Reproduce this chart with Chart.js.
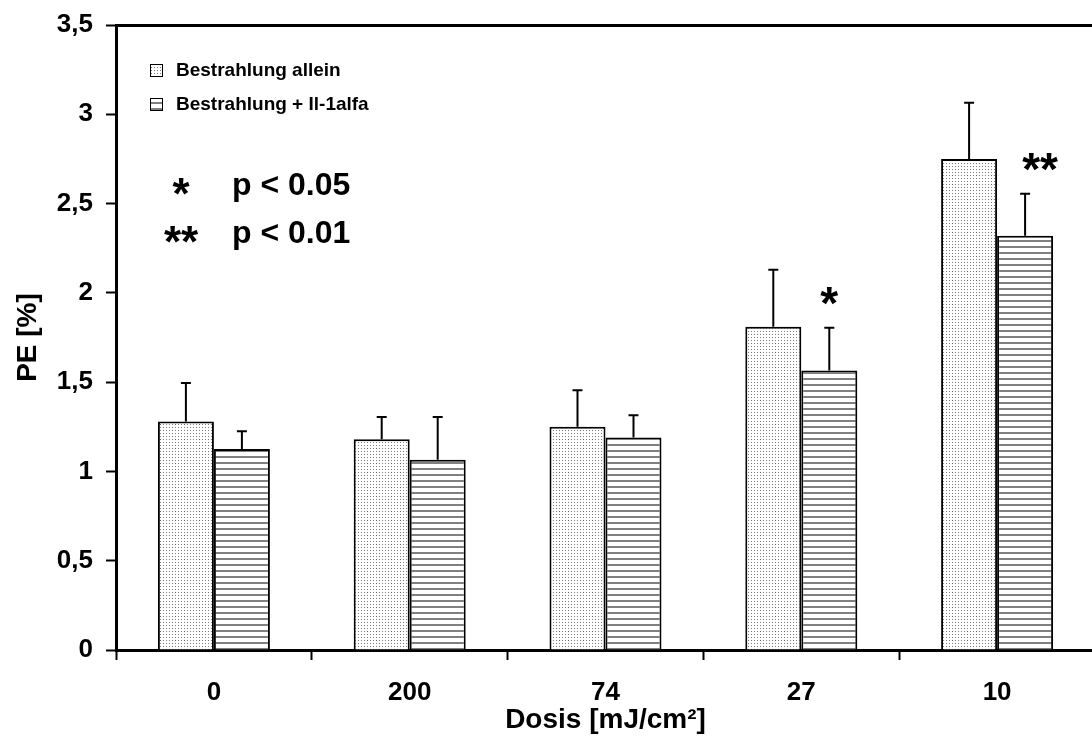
<!DOCTYPE html>
<html>
<head>
<meta charset="utf-8">
<script src="https://cdn.jsdelivr.net/npm/chart.js@4.4.0/dist/chart.umd.min.js"></script>
<style>
  html, body { margin: 0; padding: 0; background: #fff; overflow: hidden; }
</style>
</head>
<body>
<canvas id="grafico-pe" width="1100" height="745"></canvas>
<script>
// Dosis-Kategorien und PE-Werte (Mittelwert + Fehler nach oben)
const dosen = ["0", "200", "74", "27", "10"];
const peAllein = [1.28, 1.18, 1.25, 1.81, 2.75];
const fehlerAllein = [0.215, 0.125, 0.205, 0.32, 0.315];
const peIl1 = [1.125, 1.065, 1.19, 1.565, 2.32];
const fehlerIl1 = [0.10, 0.24, 0.125, 0.24, 0.235];
const signifikanz = ["", "", "", "*", "**"];
const yTicks = [0, 0.5, 1, 1.5, 2, 2.5, 3, 3.5];

const schrift = "'Liberation Sans', Arial, sans-serif";
Chart.defaults.font.family = schrift;
Chart.defaults.color = "#000";

const canvas = document.getElementById("grafico-pe");
const ctx = canvas.getContext("2d");

// Punktraster für "allein"
const musterPunkte = (() => {
  const c = document.createElement("canvas");
  c.width = 3; c.height = 3;
  const g = c.getContext("2d");
  g.fillStyle = "#fff"; g.fillRect(0, 0, 3, 3);
  g.fillStyle = "#7a7a7a"; g.fillRect(1, 1, 1, 1);
  return ctx.createPattern(c, "repeat");
})();

// waagerechte Linien für "+ Il-1alfa"
const musterLinien = (() => {
  const c = document.createElement("canvas");
  c.width = 6; c.height = 6;
  const g = c.getContext("2d");
  g.fillStyle = "#fff"; g.fillRect(0, 0, 6, 6);
  g.fillStyle = "#808080"; g.fillRect(0, 0, 6, 2);
  return ctx.createPattern(c, "repeat");
})();

const fehlerbalken = {
  id: "fehlerbalken",
  afterDatasetsDraw(chart) {
    const c = chart.ctx;
    const y = chart.scales.y;
    [fehlerAllein, fehlerIl1].forEach((err, i) => {
      const werte = chart.data.datasets[i].data;
      chart.getDatasetMeta(i).data.forEach((bar, j) => {
        const oben = y.getPixelForValue(werte[j] + err[j]);
        c.save();
        c.strokeStyle = "#000";
        c.lineWidth = 2;
        c.beginPath();
        c.moveTo(bar.x, bar.y);
        c.lineTo(bar.x, oben);
        c.moveTo(bar.x - 5, oben);
        c.lineTo(bar.x + 5, oben);
        c.stroke();
        c.restore();
      });
    });
    // Sternchen über den Il-1alfa-Balken
    c.save();
    c.fillStyle = "#000";
    c.font = "bold 46px " + schrift;
    c.textAlign = "center";
    c.textBaseline = "alphabetic";
    chart.getDatasetMeta(1).data.forEach((bar, j) => {
      if (!signifikanz[j]) return;
      const oben = y.getPixelForValue(peIl1[j] + fehlerIl1[j]);
      const dx = signifikanz[j].length > 1 ? 15 : 0;
      c.fillText(signifikanz[j], bar.x + dx, oben - 9);
    });
    c.restore();
  }
};

const legende = {
  id: "legende",
  afterDraw(chart) {
    const c = chart.ctx;
    const a = chart.chartArea;
    c.save();
    const eintraege = [
      { text: chart.data.datasets[0].label, muster: musterPunkte },
      { text: chart.data.datasets[1].label, muster: musterLinien },
    ];
    eintraege.forEach((e, i) => {
      const bx = a.left + 34, by = a.top + 39 + i * 34;
      c.fillStyle = e.muster;
      c.fillRect(bx, by, 13, 13);
      c.strokeStyle = "#000";
      c.lineWidth = 1;
      c.strokeRect(bx + 0.5, by + 0.5, 12, 12);
      c.fillStyle = "#000";
      c.font = "bold 19px " + schrift;
      c.textBaseline = "middle";
      c.textAlign = "left";
      c.fillText(e.text, bx + 26, by + 7);
    });

    const pWerte = [["*", "p < 0.05"], ["**", "p < 0.01"]];
    pWerte.forEach((p, i) => {
      const ym = a.top + 160 + i * 48;
      c.font = "bold 44px " + schrift;
      c.textAlign = "center";
      c.textBaseline = "alphabetic";
      c.fillText(p[0], a.left + 65, ym + 24);
      c.font = "bold 32px " + schrift;
      c.textAlign = "left";
      c.textBaseline = "middle";
      c.fillText(p[1], a.left + 116, ym + 1);
    });
    c.restore();
  }
};

const tickSchrift = { family: schrift, size: 26, weight: "bold" };
const titelSchrift = { family: schrift, size: 28, weight: "bold" };

new Chart(ctx, {
  type: "bar",
  data: {
    labels: dosen,
    datasets: [
      {
        label: "Bestrahlung allein",
        data: peAllein,
        backgroundColor: musterPunkte,
        borderColor: "#000",
        borderWidth: 2,
      },
      {
        label: "Bestrahlung + Il-1alfa",
        data: peIl1,
        backgroundColor: musterLinien,
        borderColor: "#000",
        borderWidth: 2,
      },
    ],
  },
  options: {
    responsive: false,
    animation: false,
    layout: { padding: { left: 0, right: 5, top: 0, bottom: 0 } },
    datasets: {
      bar: { categoryPercentage: 0.572, barPercentage: 1.0 },
    },
    scales: {
      x: {
        grid: {
          display: true,
          drawOnChartArea: false,
          offset: true,
          tickLength: 10,
          tickWidth: 2,
          tickColor: "#000",
        },
        border: { display: true, color: "#000", width: 3 },
        ticks: { color: "#000", font: tickSchrift, padding: 17, maxRotation: 0 },
        title: {
          display: true,
          text: "Dosis [mJ/cm²]",
          color: "#000",
          font: titelSchrift,
          padding: { top: 0, bottom: 8 },
        },
        afterFit(s) { s.height = 95; },
      },
      xOben: {
        type: "category",
        position: "top",
        grid: { display: false },
        border: { display: true, color: "#000", width: 3 },
        ticks: { display: false },
        afterFit(s) { s.height = 25; },
      },
      y: {
        min: 0,
        max: 3.5,
        afterBuildTicks(s) { s.ticks = yTicks.map((v) => ({ value: v })); },
        grid: {
          drawOnChartArea: false,
          tickLength: 10,
          tickWidth: 2,
          tickColor: "#000",
        },
        border: { display: true, color: "#000", width: 3 },
        ticks: {
          color: "#000",
          font: tickSchrift,
          padding: 13,
          callback: (v) => String(v).replace(".", ","),
        },
        title: {
          display: true,
          text: "PE [%]",
          color: "#000",
          font: titelSchrift,
          padding: { top: 11, bottom: 0 },
        },
        afterFit(s) {
          s.width = 116;
          s.paddingTop = 0;
          s.paddingBottom = 0;
        },
      },
    },
    plugins: {
      legend: { display: false },
      tooltip: { enabled: false },
    },
  },
  plugins: [fehlerbalken, legende],
});
</script>
</body>
</html>
